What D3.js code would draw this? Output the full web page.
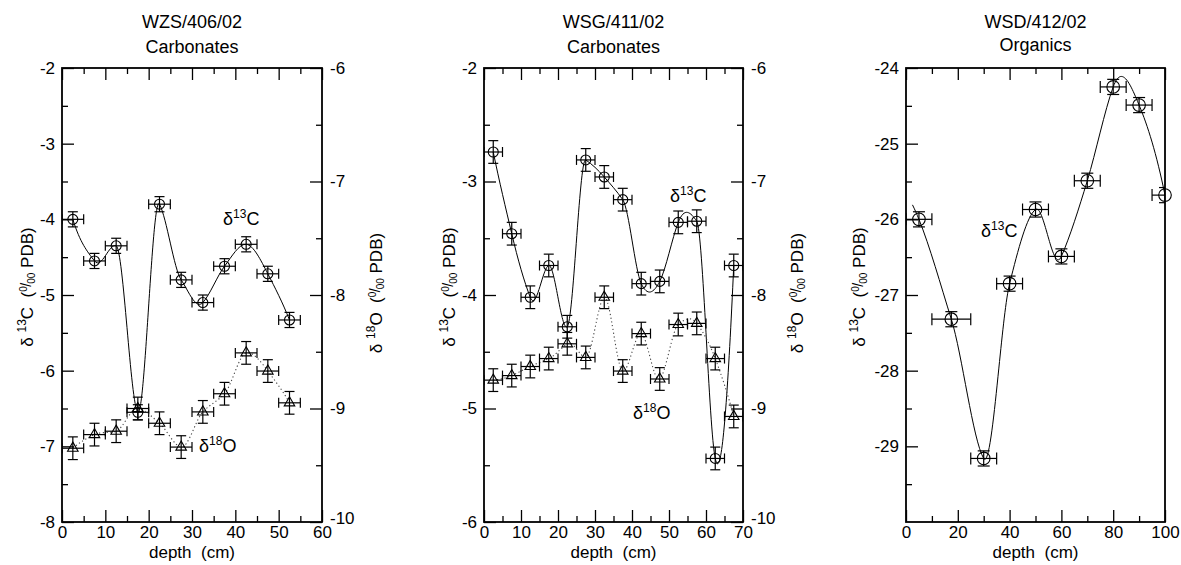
<!DOCTYPE html>
<html><head><meta charset="utf-8">
<script src="https://cdn.jsdelivr.net/npm/d3@7"></script>
<style>
body{margin:0;background:#fff}
svg{display:block}
text{font-family:"Liberation Sans",Arial,Helvetica,sans-serif;fill:#000;white-space:pre}
</style>
</head><body>
<svg id="chart" width="1181" height="565"></svg>
<script>
// ---------- data ----------
// Panel 1: WZS/406/02 carbonates
const wzsDepth = [2.5, 7.5, 12.5, 17.5, 22.5, 27.5, 32.5, 37.5, 42.5, 47.5, 52.5];
const wzsDepthErr = [2.5, 2.5, 2.5, 2.5, 2.5, 2.5, 2.5, 2.5, 2.5, 2.5, 2.5];
const wzsC13 = [-4.00, -4.55, -4.35, -6.55, -3.80, -4.80, -5.10, -4.62, -4.33, -4.72, -5.33];
const wzsO18 = [-9.35, -9.23, -9.20, -9.00, -9.13, -9.34, -9.03, -8.87, -8.51, -8.67, -8.95];
const wzsErr = 0.1;

// Panel 2: WSG/411/02 carbonates
const wsgDepth = [2.5, 7.5, 12.5, 17.5, 22.5, 27.5, 32.5, 37.5, 42.5, 47.5, 52.5, 57.5, 62.5, 67.5];
const wsgDepthErr = [2.5, 2.5, 2.5, 2.5, 2.5, 2.5, 2.5, 2.5, 2.5, 2.5, 2.5, 2.5, 2.5, 2.5];
const wsgC13 = [-2.74, -3.46, -4.02, -3.74, -4.28, -2.81, -2.96, -3.16, -3.90, -3.88, -3.36, -3.35, -5.44, -3.74];
const wsgO18 = [-8.75, -8.71, -8.63, -8.56, -8.43, -8.55, -8.02, -8.67, -8.34, -8.74, -8.26, -8.25, -8.56, -9.07];
const wsgErr = 0.1;

// Panel 3: WSD/412/02 organics
const wsdDepth = [5, 17.5, 30, 40, 50, 60, 70, 80, 90, 100];
const wsdDepthErr = [5, 7.5, 5, 5, 5, 5, 5, 5, 5, 5];
const wsdC13 = [-26.00, -27.32, -29.16, -26.85, -25.87, -26.49, -25.49, -24.25, -24.49, -25.68];
const wsdErr = 0.1;
const wsdCurveStart = 2.5;

// tick labels
const wzsXTicks = [0, 10, 20, 30, 40, 50, 60];
const wzsXMinor = [5, 15, 25, 35, 45, 55];
const wzsLeftTicks = [-2, -3, -4, -5, -6, -7, -8];
const wzsLeftMinor = [-2.5, -3.5, -4.5, -5.5, -6.5, -7.5];
const wzsRightTicks = [-6, -7, -8, -9, -10];
const wzsRightMinor = [-6.5, -7.5, -8.5, -9.5];

const wsgXTicks = [0, 10, 20, 30, 40, 50, 60, 70];
const wsgXMinor = [5, 15, 25, 35, 45, 55, 65];
const wsgLeftTicks = [-2, -3, -4, -5, -6];
const wsgLeftMinor = [-2.5, -3.5, -4.5, -5.5];
const wsgRightTicks = [-6, -7, -8, -9, -10];
const wsgRightMinor = [-6.5, -7.5, -8.5, -9.5];

const wsdXTicks = [0, 20, 40, 60, 80, 100];
const wsdXMinor = [10, 30, 50, 70, 90];
const wsdLeftTicks = [-24, -25, -26, -27, -28, -29];
const wsdLeftMinor = [-24.5, -25.5, -26.5, -27.5, -28.5, -29.5];

// ---------- Akima spline curve for d3.line ----------
function akimaCurve(startX) {
  return function(context) { return new AkimaCurve(context, startX); };
}
function AkimaCurve(ctx, startX) { this._ctx = ctx; this._startX = startX; }
AkimaCurve.prototype = {
  areaStart() {}, areaEnd() {},
  lineStart() { this._x = []; this._y = []; },
  point(x, y) { this._x.push(+x); this._y.push(+y); },
  lineEnd() {
    const X = this._x, Y = this._y, n = X.length, c = this._ctx;
    if (n === 0) return;
    if (n < 3) { c.moveTo(X[0], Y[0]); for (let i = 1; i < n; i++) c.lineTo(X[i], Y[i]); return; }
    const m = new Array(n + 3);
    for (let i = 0; i < n - 1; i++) m[i + 2] = (Y[i + 1] - Y[i]) / (X[i + 1] - X[i]);
    m[1] = 2 * m[2] - m[3]; m[0] = 2 * m[1] - m[2];
    m[n + 1] = 2 * m[n] - m[n - 1]; m[n + 2] = 2 * m[n + 1] - m[n];
    const t = new Array(n);
    for (let i = 0; i < n; i++) {
      const w1 = Math.abs(m[i + 3] - m[i + 2]), w2 = Math.abs(m[i + 1] - m[i]);
      t[i] = (w1 + w2 > 1e-12) ? (w1 * m[i + 1] + w2 * m[i + 2]) / (w1 + w2) : (m[i + 1] + m[i + 2]) / 2;
    }
    const sx = this._startX;
    if (sx != null && sx < X[0]) {
      const h = X[1] - X[0], u = (sx - X[0]) / h;
      const h00 = 2*u*u*u - 3*u*u + 1, h10 = u*u*u - 2*u*u + u, h01 = -2*u*u*u + 3*u*u, h11 = u*u*u - u*u;
      const d00 = 6*u*u - 6*u, d10 = 3*u*u - 4*u + 1, d01 = -6*u*u + 6*u, d11 = 3*u*u - 2*u;
      const ys = h00*Y[0] + h10*h*t[0] + h01*Y[1] + h11*h*t[1];
      const ds = (d00*Y[0] + d10*h*t[0] + d01*Y[1] + d11*h*t[1]) / h;
      const L = X[0] - sx;
      c.moveTo(sx, ys);
      c.bezierCurveTo(sx + L/3, ys + ds*L/3, X[0] - L/3, Y[0] - t[0]*L/3, X[0], Y[0]);
    } else {
      c.moveTo(X[0], Y[0]);
    }
    for (let i = 0; i < n - 1; i++) {
      const h = X[i + 1] - X[i];
      c.bezierCurveTo(X[i] + h/3, Y[i] + t[i]*h/3, X[i+1] - h/3, Y[i+1] - t[i+1]*h/3, X[i+1], Y[i+1]);
    }
  }
};

// ---------- panels ----------
const panels = [
  { t1: "WZS/406/02", t2: "Carbonates", t2y: 53, x0: 62, x1: 322, y0: 68, y1: 522,
    xDom: [0, 60], xT: wzsXTicks, xM: wzsXMinor,
    lDom: [-8, -2], lT: wzsLeftTicks, lM: wzsLeftMinor,
    rDom: [-10, -6], rT: wzsRightTicks, rM: wzsRightMinor,
    lLabX: 33, lLabY: 287, rLabX: 382, rLabY: 293, mr: 5, cap: 5,
    series: [
      { depth: wzsDepth, dErr: wzsDepthErr, val: wzsC13, vErr: wzsErr, axis: "l", mark: "circle", dotted: false },
      { depth: wzsDepth, dErr: wzsDepthErr, val: wzsO18, vErr: wzsErr, axis: "r", mark: "tri", dotted: true }
    ],
    notes: [ { iso: "13", el: "C", x: 223, y: 225 }, { iso: "18", el: "O", x: 199, y: 452 } ] },
  { t1: "WSG/411/02", t2: "Carbonates", t2y: 53, x0: 484, x1: 743, y0: 68, y1: 522,
    xDom: [0, 70], xT: wsgXTicks, xM: wsgXMinor,
    lDom: [-6, -2], lT: wsgLeftTicks, lM: wsgLeftMinor,
    rDom: [-10, -6], rT: wsgRightTicks, rM: wsgRightMinor,
    lLabX: 455, lLabY: 287, rLabX: 803, rLabY: 293, mr: 5, cap: 5,
    series: [
      { depth: wsgDepth, dErr: wsgDepthErr, val: wsgC13, vErr: wsgErr, axis: "l", mark: "circle", dotted: false },
      { depth: wsgDepth, dErr: wsgDepthErr, val: wsgO18, vErr: wsgErr, axis: "r", mark: "tri", dotted: true }
    ],
    notes: [ { iso: "13", el: "C", x: 670, y: 202 }, { iso: "18", el: "O", x: 633, y: 419 } ] },
  { t1: "WSD/412/02", t2: "Organics", t2y: 51, x0: 906, x1: 1165, y0: 68, y1: 522,
    xDom: [0, 100], xT: wsdXTicks, xM: wsdXMinor,
    lDom: [-30, -24], lT: wsdLeftTicks, lM: wsdLeftMinor,
    rDom: null,
    lLabX: 865, lLabY: 287, mr: 6.3, cap: 6,
    series: [
      { depth: wsdDepth, dErr: wsdDepthErr, val: wsdC13, vErr: wsdErr, axis: "l", mark: "circle", dotted: false, start: wsdCurveStart }
    ],
    notes: [ { iso: "13", el: "C", x: 981, y: 237 } ] }
];

const svg = d3.select("#chart");
const FS = 18, TFS = 17, LFS = 17;

function isoLabel(g, tx, ty, iso, el, rotate) {
  const fs = rotate ? LFS : FS;
  const t = g.append("text")
    .attr("transform", rotate ? `translate(${tx},${ty}) rotate(-90)` : `translate(${tx},${ty})`)
    .attr("text-anchor", rotate ? "middle" : "start")
    .attr("font-size", fs);
  t.append("tspan").text(rotate ? "δ " : "δ");
  t.append("tspan").attr("font-size", 12).attr("dy", -7).text(iso);
  t.append("tspan").attr("dy", 7).text(el);
  if (rotate) {
    t.append("tspan").text("  (");
    t.append("tspan").attr("font-size", 10).attr("dy", -6).text("0");
    t.append("tspan").attr("font-size", 14).attr("dy", 4).attr("dx", -0.5).text("/");
    t.append("tspan").attr("font-size", 10).attr("dy", 4).attr("dx", -1).text("00");
    t.append("tspan").attr("dy", -2).text(" PDB)");
  }
}

panels.forEach((p, idx) => {
  const g = svg.append("g");
  const x = d3.scaleLinear().domain(p.xDom).range([p.x0, p.x1]);
  const yL = d3.scaleLinear().domain(p.lDom).range([p.y1, p.y0]);
  const yR = p.rDom ? d3.scaleLinear().domain(p.rDom).range([p.y1, p.y0]) : null;

  const cid = "clip" + idx;
  svg.append("clipPath").attr("id", cid).append("rect")
    .attr("x", p.x0).attr("y", p.y0).attr("width", p.x1 - p.x0).attr("height", p.y1 - p.y0);

  // titles
  const cx = (p.x0 + p.x1) / 2;
  g.append("text").attr("x", cx).attr("y", 28).attr("text-anchor", "middle").attr("font-size", FS).text(p.t1);
  g.append("text").attr("x", cx).attr("y", p.t2y).attr("text-anchor", "middle").attr("font-size", FS).text(p.t2);

  // axes
  const styleAxis = sel => {
    sel.select(".domain").remove();
    sel.selectAll(".tick line").attr("stroke", "#000").attr("stroke-width", 1.3);
    sel.selectAll(".tick text").attr("font-size", TFS).attr("font-family", "Liberation Sans, Arial, sans-serif").attr("fill", "#000");
  };
  const fmt = d => String(d);
  g.append("g").attr("transform", `translate(0,${p.y1})`)
    .call(d3.axisBottom(x).tickValues(p.xT).tickFormat(fmt).tickSizeInner(-12).tickSizeOuter(0).tickPadding(4)).call(styleAxis);
  g.append("g").attr("transform", `translate(0,${p.y1})`)
    .call(d3.axisBottom(x).tickValues(p.xM).tickFormat("").tickSizeInner(-6).tickSizeOuter(0)).call(styleAxis);
  g.append("g").attr("transform", `translate(0,${p.y0})`)
    .call(d3.axisTop(x).tickValues(p.xT).tickFormat("").tickSizeInner(-12).tickSizeOuter(0)).call(styleAxis);
  g.append("g").attr("transform", `translate(0,${p.y0})`)
    .call(d3.axisTop(x).tickValues(p.xM).tickFormat("").tickSizeInner(-6).tickSizeOuter(0)).call(styleAxis);
  g.append("g").attr("transform", `translate(${p.x0},0)`)
    .call(d3.axisLeft(yL).tickValues(p.lT).tickFormat(fmt).tickSizeInner(-12).tickSizeOuter(0).tickPadding(7)).call(styleAxis);
  g.append("g").attr("transform", `translate(${p.x0},0)`)
    .call(d3.axisLeft(yL).tickValues(p.lM).tickFormat("").tickSizeInner(-6).tickSizeOuter(0)).call(styleAxis);
  if (yR) {
    const ra = g.append("g").attr("transform", `translate(${p.x1},0)`)
      .call(d3.axisRight(yR).tickValues(p.rT).tickFormat(fmt).tickSizeInner(-12).tickSizeOuter(0).tickPadding(8)).call(styleAxis);
    ra.selectAll(".tick text").filter(d => d === p.rDom[0]).attr("dy", "0.1em");
    g.append("g").attr("transform", `translate(${p.x1},0)`)
      .call(d3.axisRight(yR).tickValues(p.rM).tickFormat("").tickSizeInner(-6).tickSizeOuter(0)).call(styleAxis);
  }

  // frame
  g.append("rect").attr("x", p.x0).attr("y", p.y0).attr("width", p.x1 - p.x0).attr("height", p.y1 - p.y0)
    .attr("fill", "none").attr("stroke", "#000").attr("stroke-width", 1.8);

  // axis labels
  g.append("text").attr("x", cx).attr("y", 558).attr("text-anchor", "middle").attr("font-size", LFS).text("depth  (cm)");
  isoLabel(g, p.lLabX, p.lLabY, "13", "C", true);
  if (yR) isoLabel(g, p.rLabX, p.rLabY, "18", "O", true);

  // series
  p.series.forEach(s => {
    const y = s.axis === "l" ? yL : yR;
    const pts = s.depth.map((d, i) => ({ d, de: s.dErr[i], v: s.val[i], ve: s.vErr }));
    const sx = s.start != null ? x(s.start) : null;
    const line = d3.line().x(q => x(q.d)).y(q => y(q.v)).curve(akimaCurve(sx));
    g.append("path").datum(pts).attr("d", line).attr("fill", "none")
      .attr("clip-path", `url(#${cid})`)
      .attr("stroke", s.dotted ? "#444" : "#000")
      .attr("stroke-width", s.dotted ? 1.1 : 1)
      .attr("stroke-dasharray", s.dotted ? "1.2,2.6" : null);

    const eb = g.append("g").attr("clip-path", `url(#${cid})`).attr("stroke", "#000").attr("stroke-width", 1.2);
    const c = p.cap;
    pts.forEach(q => {
      const px = x(q.d), py = y(q.v);
      const xa = x(q.d - q.de), xb = x(q.d + q.de);
      const ya = y(q.v + q.ve), yb = y(q.v - q.ve);
      eb.append("line").attr("x1", xa).attr("x2", xb).attr("y1", py).attr("y2", py);
      eb.append("line").attr("x1", xa).attr("x2", xa).attr("y1", py - c).attr("y2", py + c);
      eb.append("line").attr("x1", xb).attr("x2", xb).attr("y1", py - c).attr("y2", py + c);
      eb.append("line").attr("x1", px).attr("x2", px).attr("y1", ya).attr("y2", yb);
      eb.append("line").attr("x1", px - c).attr("x2", px + c).attr("y1", ya).attr("y2", ya);
      eb.append("line").attr("x1", px - c).attr("x2", px + c).attr("y1", yb).attr("y2", yb);
    });

    if (s.mark === "circle") {
      g.selectAll(null).data(pts).join("circle")
        .attr("cx", q => x(q.d)).attr("cy", q => y(q.v)).attr("r", p.mr)
        .attr("fill", "none").attr("stroke", "#000").attr("stroke-width", 1.1);
    } else {
      const tri = d3.symbol().type(d3.symbolTriangle).size(48);
      g.selectAll(null).data(pts).join("path")
        .attr("transform", q => `translate(${x(q.d)},${y(q.v)})`).attr("d", tri)
        .attr("fill", "none").attr("stroke", "#000").attr("stroke-width", 1.1);
    }
  });

  p.notes.forEach(n => isoLabel(g, n.x, n.y, n.iso, n.el, false));
});
</script>
</body></html>
